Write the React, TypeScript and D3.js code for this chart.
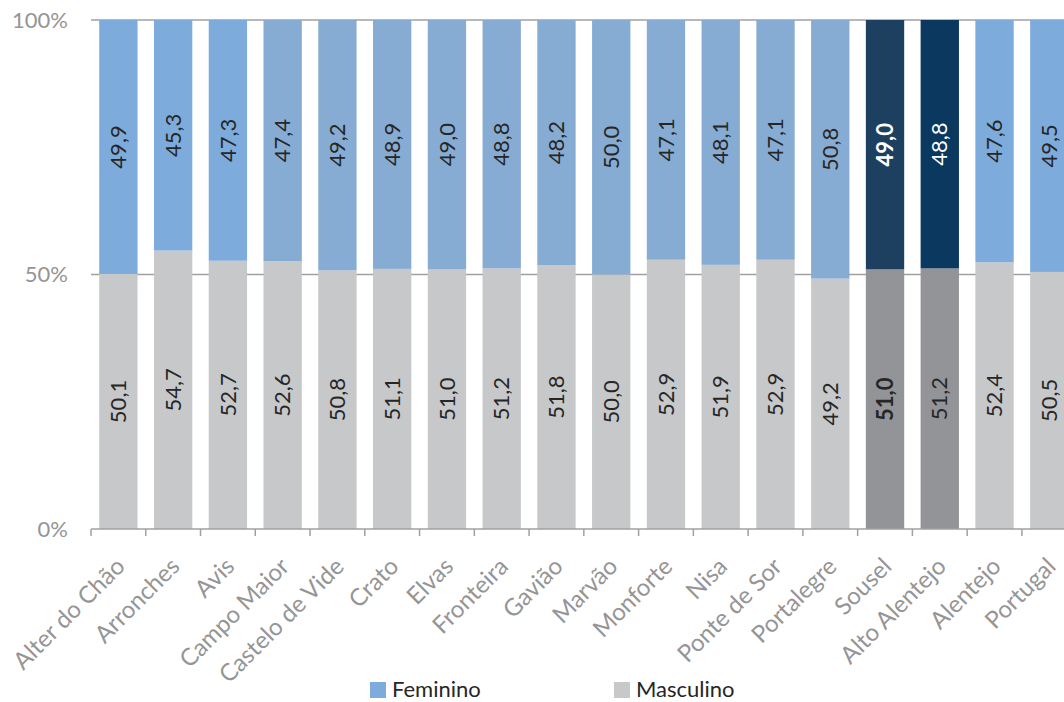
import React from "react";
import * as d3 from "d3";

const categories = [
  "Alter do Chão", "Arronches", "Avis", "Campo Maior", "Castelo de Vide", "Crato",
  "Elvas", "Fronteira", "Gavião", "Marvão", "Monforte", "Nisa", "Ponte de Sor",
  "Portalegre", "Sousel", "Alto Alentejo", "Alentejo", "Portugal",
];
const masculino = [50.1, 54.7, 52.7, 52.6, 50.8, 51.1, 51.0, 51.2, 51.8, 50.0, 52.9, 51.9, 52.9, 49.2, 51.0, 51.2, 52.4, 50.5];
const feminino = [49.9, 45.3, 47.3, 47.4, 49.2, 48.9, 49.0, 48.8, 48.2, 50.0, 47.1, 48.1, 47.1, 50.8, 49.0, 48.8, 47.6, 49.5];
const yTicks = [0, 50, 100];
const seriesNames = ["Feminino", "Masculino"];

const FONT = "Lato, 'Open Sans', sans-serif";

function femColor(c: string) {
  if (c === "Sousel") return "#1E4060";
  if (c === "Alto Alentejo") return "#0B385E";
  if (["Alter do Chão", "Arronches", "Avis", "Alentejo", "Portugal"].includes(c)) return "#7DACDC";
  return "#87ACD3";
}
function mascColor(c: string) {
  if (c === "Sousel" || c === "Alto Alentejo") return "#939498";
  return "#C7C8CA";
}

export default function App() {
  const W = 1064, H = 702;
  const left = 91;
  const step = 54.76;
  const x = d3.scaleBand<string>()
    .domain(categories)
    .range([left, left + step * categories.length])
    .paddingInner(0.3)
    .paddingOuter(0.15);
  const y = d3.scaleLinear().domain([0, 100]).range([529, 20]);
  const bw = x.bandwidth();
  const ticksX = categories.map((c, i) => left + i * step);

  return (
    <svg width={W} height={H} style={{ position: "absolute", left: 0, top: 0, background: "#fff" }} fontFamily={FONT}>
      {/* gridlines */}
      {yTicks.filter(t => t > 0).map(t => (
        <line key={t} x1={left} x2={W} y1={y(t)} y2={y(t)} stroke="#A0A0A0" strokeWidth={1.5} />
      ))}
      {/* y tick labels */}
      {yTicks.map(t => (
        <text key={t} x={68} y={y(t)} dy="0.35em" textAnchor="end" fontSize={22} fill="#959595">{t}%</text>
      ))}
      {/* bars */}
      {categories.map((c, i) => {
        const x0 = x(c)!;
        const m = masculino[i], f = feminino[i];
        return (
          <g key={c}>
            <rect x={x0} width={bw} y={y(m)} height={y(0) - y(m)} fill={mascColor(c)} />
            <rect x={x0} width={bw} y={y(m + f)} height={y(m) - y(m + f)} fill={femColor(c)} />
          </g>
        );
      })}
      {/* axis */}
      <line x1={left} x2={W} y1={y(0)} y2={y(0)} stroke="#A0A0A0" strokeWidth={1.5} />
      {ticksX.map((tx, i) => (
        <line key={i} x1={tx} x2={tx} y1={y(0)} y2={y(0) + 7} stroke="#A0A0A0" strokeWidth={1.5} />
      ))}
      {/* data labels */}
      {categories.map((c, i) => {
        const cx = x(c)! + bw / 2;
        const m = masculino[i], f = feminino[i];
        const ym = (y(0) + y(m)) / 2;
        const yf = (y(m) + y(m + f)) / 2;
        const bold = c === "Sousel";
        const femFill = c === "Sousel" || c === "Alto Alentejo" ? "#FFFFFF" : "#262626";
        return (
          <g key={c} fontSize={22}>
            <text transform={`translate(${cx},${yf}) rotate(-90)`} textAnchor="middle" dy="0.35em" fill={femFill} fontWeight={bold ? 700 : 400}>
              {f.toFixed(1).replace(".", ",")}
            </text>
            <text transform={`translate(${cx},${ym}) rotate(-90)`} textAnchor="middle" dy="0.35em" fill="#262626" fontWeight={bold ? 700 : 400}>
              {m.toFixed(1).replace(".", ",")}
            </text>
          </g>
        );
      })}
      {/* category labels */}
      {categories.map(c => {
        const cx = x(c)! + bw / 2;
        return (
          <text key={c} transform={`translate(${cx + 2},${562}) rotate(-45)`} textAnchor="end" dy="0.35em" fontSize={24} fill="#959595">
            {c}
          </text>
        );
      })}
      {/* legend */}
      {seriesNames.map((s, i) => {
        const lx = i === 0 ? 370 : 614;
        return (
          <g key={s}>
            <rect x={lx} y={682} width={16} height={16} fill={i === 0 ? "#7DACDC" : "#C7C8CA"} />
            <text x={lx + 22} y={697} fontSize={22} fill="#262626">{s}</text>
          </g>
        );
      })}
    </svg>
  );
}
